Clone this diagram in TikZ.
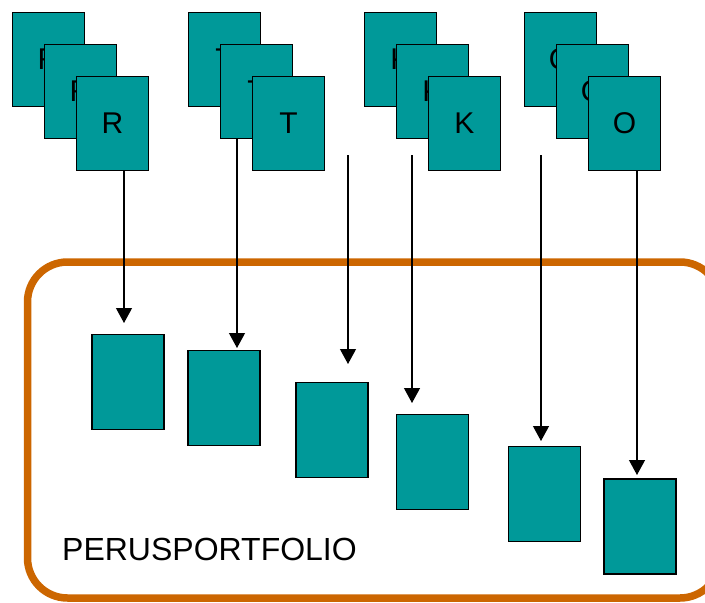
\documentclass[tikz,border=0pt]{standalone}
\usepackage{fontspec}
\setmainfont{Liberation Sans}
\usepackage{xcolor}
\usepackage{tikz}
\usetikzlibrary{arrows.meta}
\definecolor{cardfill}{RGB}{0,153,153}
\definecolor{frameorange}{RGB}{204,102,0}
\pgfdeclarelayer{nodelayer}
\pgfdeclarelayer{edgelayer}
\pgfsetlayers{nodelayer,edgelayer,main}
\tikzset{
  card/.style={draw=black, line width=1.3pt, fill=cardfill, inner sep=0pt,
    minimum width=72pt, minimum height=94pt, font=\fontsize{30}{36}\selectfont},
  feed/.style={line width=1.2pt, -{Triangle[length=15pt,width=16pt]}}
}

\begin{document}
\begin{tikzpicture}[x=1pt, y=-1pt]
  \useasboundingbox (0, 0) rectangle (705, 603);
  \begin{pgfonlayer}{nodelayer}
    \draw [frameorange, line width=7.5pt, rounded corners=40pt] (27.5, 262) rectangle (720, 598);
    \node [anchor=base west, inner sep=0pt, font=\fontsize{32}{38}\selectfont] (frame) at (62, 560) {PERUSPORTFOLIO};
    % incoming stacks
    \node [card] (0) at (48.5, 59.5) {R};
    \node [card] (1) at (80.5, 91.5) {R};
    \node [card] (2) at (112.5, 123.5) {R};
    \node [card] (3) at (224.5, 59.5) {T};
    \node [card] (4) at (256.5, 91.5) {T};
    \node [card] (5) at (288.5, 123.5) {T};
    \node [card] (6) at (400.5, 59.5) {K};
    \node [card] (7) at (432.5, 91.5) {K};
    \node [card] (8) at (464.5, 123.5) {K};
    \node [card] (9) at (560.5, 59.5) {O};
    \node [card] (10) at (592.5, 91.5) {O};
    \node [card] (11) at (624.5, 123.5) {O};
    % portfolio
    \node [card, minimum height=95pt] (12) at (128, 382) {};
    \node [card, minimum height=95pt] (13) at (224, 398) {};
    \node [card, minimum height=95pt] (14) at (332, 430) {};
    \node [card, minimum height=95pt] (15) at (432.5, 462) {};
    \node [card, minimum height=95pt] (16) at (544.5, 494) {};
    \node [card, minimum height=95pt] (17) at (640, 526.5) {};
    \coordinate (s2) at (348, 155);
    \coordinate (s3) at (412, 155);
    \coordinate (s4) at (541, 155);
    \coordinate (e0) at (124, 323);
    \coordinate (e1) at (237, 348);
    \coordinate (e2) at (348, 364);
    \coordinate (e3) at (412, 403);
    \coordinate (e4) at (541, 441);
    \coordinate (e5) at (637, 475);
  \end{pgfonlayer}
  \begin{pgfonlayer}{edgelayer}
    \draw [feed] ([xshift=11.5pt]2.south) to (e0);
    \draw [feed] ([xshift=-19.5pt]4.south) to (e1);
    \draw [feed] (s2) to (e2);
    \draw [feed] (s3) to (e3);
    \draw [feed] (s4) to (e4);
    \draw [feed] ([xshift=12.5pt]11.south) to (e5);
  \end{pgfonlayer}
\end{tikzpicture}
\end{document}
